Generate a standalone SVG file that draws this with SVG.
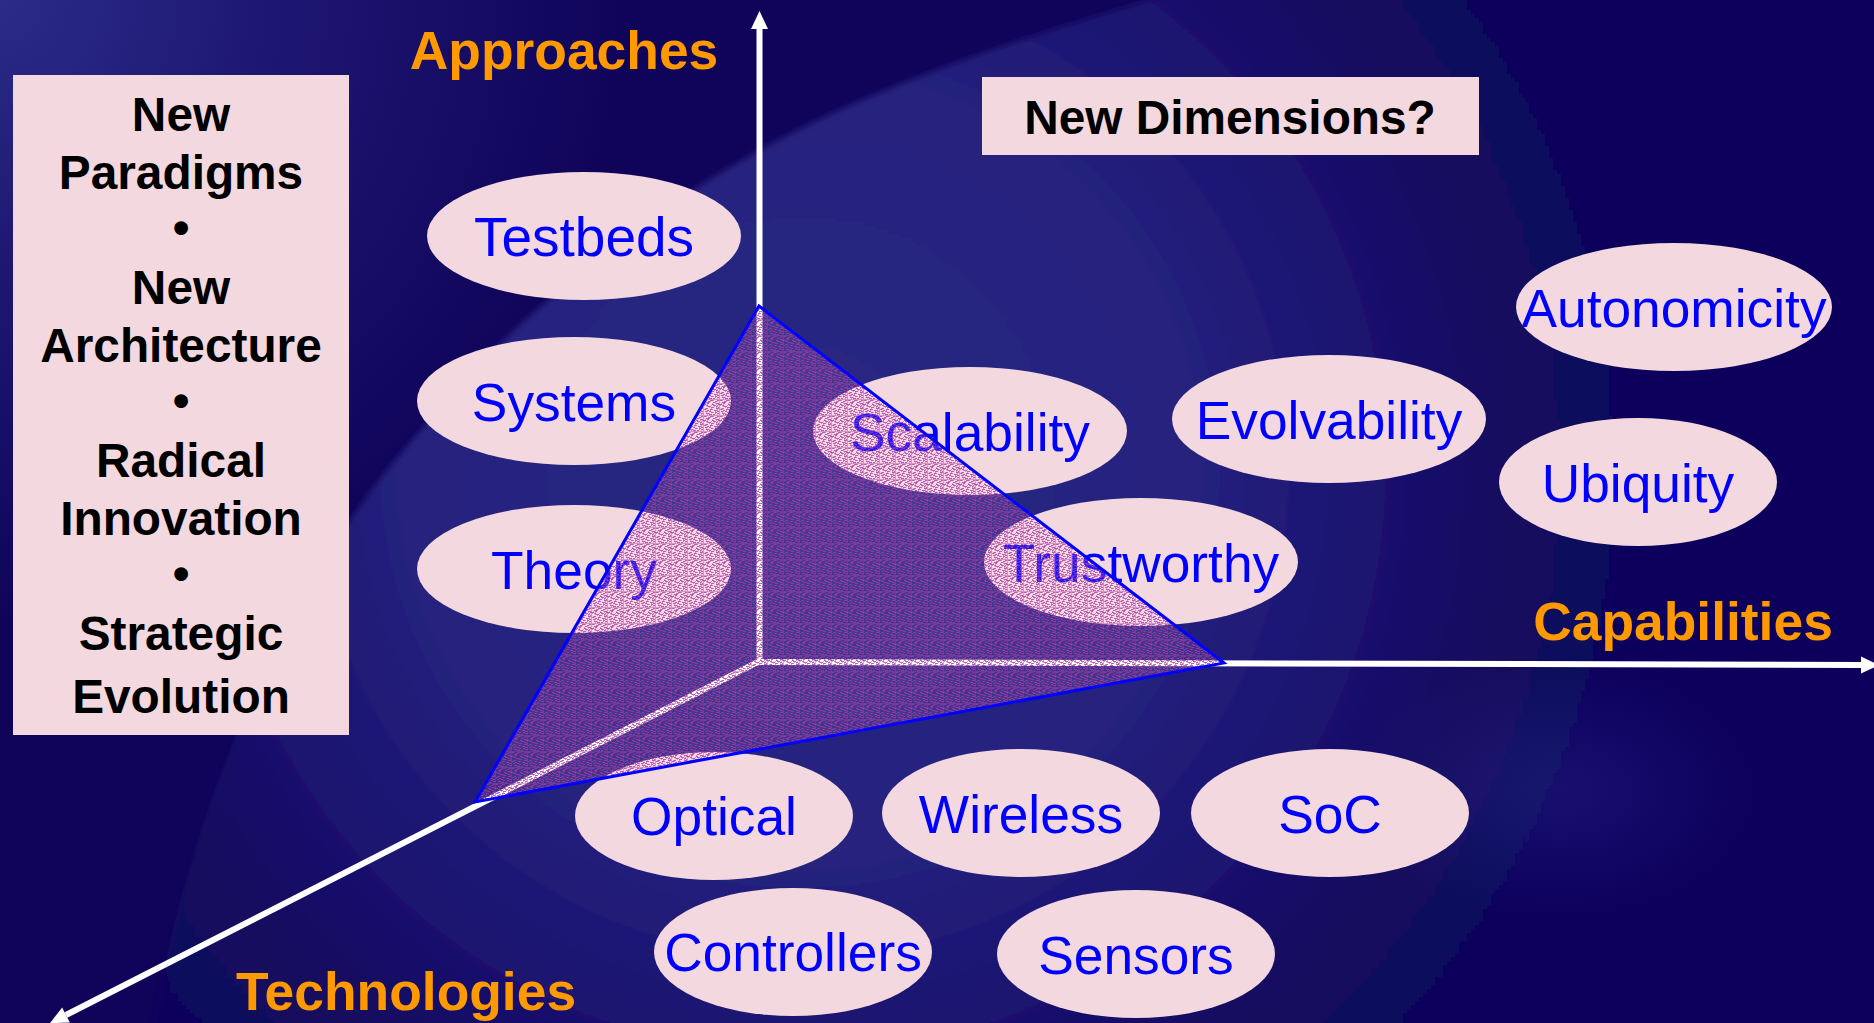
<svg xmlns="http://www.w3.org/2000/svg" width="1874" height="1023" viewBox="0 0 1874 1023">
<style>
.n{fill:#f3d8df}
.l{font:53.3px "Liberation Sans",Arial,sans-serif;fill:#0000ff;text-anchor:middle}
.b{font:bold 47.8px "Liberation Sans",Arial,sans-serif;fill:#000;text-anchor:middle}
.o{font:bold 53.4px "Liberation Sans",Arial,sans-serif;fill:#ff9900;text-anchor:middle}
.a{fill:none;stroke:#fff;stroke-width:6}
</style>
<defs>
<radialGradient id="bg" gradientUnits="userSpaceOnUse" cx="0" cy="0" r="620">
<stop offset="0" stop-color="#2a2c88"/><stop offset=".45" stop-color="#1d1672"/><stop offset="1" stop-color="#10045a"/>
</radialGradient>
<radialGradient id="disc" gradientUnits="userSpaceOnUse" cx="800" cy="470" r="1000">
<stop offset="0" stop-color="#2a2884"/><stop offset=".38" stop-color="#26237e"/><stop offset=".55" stop-color="#1c1472"/><stop offset=".72" stop-color="#12085e"/><stop offset="1" stop-color="#10045c"/>
</radialGradient>
<radialGradient id="glow"><stop offset="0" stop-color="#2a2a90" stop-opacity=".35"/><stop offset="1" stop-color="#2a2a90" stop-opacity="0"/></radialGradient>
<filter id="soft" x="-5%" y="-5%" width="110%" height="110%"><feGaussianBlur stdDeviation="3"/></filter>
<marker id="head" markerUnits="userSpaceOnUse" markerWidth="20" markerHeight="20" refX="0" refY="9" orient="auto" overflow="visible"><path d="M0 .5L18 9L0 17.5z" fill="#fff"/></marker>
<pattern id="dith" patternUnits="userSpaceOnUse" width="16" height="16">
<rect width="16" height="16" fill="#fff" fill-opacity=".1"/>
<path shape-rendering="crispEdges" fill="none" stroke="#b432aa" stroke-opacity=".8" d="M0 .5h2M6 .5h3M13 .5h2M4 1.5h2M11 1.5h2M2 2.5h3M9 2.5h2M3 3.5h2M12 3.5h3M0 4.5h2M8 4.5h2M14 4.5h2M2 5.5h2M9 5.5h3M4 6.5h3M12 6.5h2M7 7.5h3M14 7.5h1M2 8.5h2M12 8.5h3M0 9.5h2M6 9.5h3M3 10.5h2M10 10.5h3M1 11.5h2M5 11.5h2M13 11.5h2M7 12.5h2M11 12.5h2M2 13.5h3M13 13.5h2M5 14.5h3M9 14.5h2"/>
<path shape-rendering="crispEdges" fill="none" stroke="#b432aa" stroke-opacity=".45" d="M0 15.5h16M15.5 0v15"/>
<path shape-rendering="crispEdges" fill="none" stroke="#6a2a9a" stroke-opacity=".4" d="M2 .5h1M9 .5h1M6 1.5h1M13 1.5h1M5 2.5h1M11 2.5h1M1 3.5h1M8 3.5h1M3 4.5h1M12 4.5h1M0 5.5h1M7 5.5h1M13 5.5h1M3 6.5h1M10 6.5h1M5 7.5h1M12 7.5h1M1 8.5h1M7 8.5h1M2 9.5h1M13 9.5h1M6 10.5h1M13 10.5h1M3 11.5h1M11 11.5h1M2 12.5h1M9 12.5h1M5 13.5h1M11 13.5h1M3 14.5h1M13 14.5h1"/>
</pattern>
</defs>

<g id="background">
<rect width="1874" height="1023" fill="url(#bg)"/>
<path filter="url(#soft)" fill="url(#disc)" d="M150 1040C190 800 290 580 407 446C450 396 490 350 533 313C590 265 640 225 704 183C770 142 830 112 903 83C990 48 1080 20 1190 -12L1900 -12L1900 1040Z"/>
<ellipse cx="1560" cy="790" rx="200" ry="130" fill="url(#glow)"/>
</g>

<g id="connectors">
<path class="a" d="M759.5 662V29" marker-end="url(#head)"/>
<path class="a" d="M758 662L1861 665" marker-end="url(#head)"/>
<path class="a" d="M758 662L66 1015" marker-end="url(#head)"/>
</g>

<g id="label-approaches"><text class="o" x="564" y="69">Approaches</text></g>
<g id="label-capabilities"><text class="o" x="1683" y="640">Capabilities</text></g>
<g id="label-technologies"><text class="o" x="406" y="1010">Technologies</text></g>

<g id="box-paradigms">
<rect class="n" x="13" y="75" width="336" height="660"/>
<text class="b" x="181" y="131">New</text>
<text class="b" x="181" y="189">Paradigms</text>
<text class="b" x="181" y="244">•</text>
<text class="b" x="181" y="304">New</text>
<text class="b" x="181" y="362">Architecture</text>
<text class="b" x="181" y="417">•</text>
<text class="b" x="181" y="477">Radical</text>
<text class="b" x="181" y="535">Innovation</text>
<text class="b" x="181" y="590">•</text>
<text class="b" x="181" y="650">Strategic</text>
<text class="b" x="181" y="713">Evolution</text>
</g>
<g id="box-dimensions">
<rect class="n" x="982" y="77" width="497" height="78"/>
<text class="b" x="1230" y="134">New Dimensions?</text>
</g>

<g id="testbeds"><ellipse class="n" cx="584" cy="236" rx="157" ry="64"/><text class="l" x="584" y="256" style="font-size:55px">Testbeds</text></g>
<g id="systems"><ellipse class="n" cx="574" cy="401" rx="157" ry="64"/><text class="l" x="574" y="421">Systems</text></g>
<g id="theory"><ellipse class="n" cx="574" cy="569" rx="157" ry="64"/><text class="l" x="574" y="589">Theory</text></g>
<g id="scalability"><ellipse class="n" cx="970" cy="431" rx="157" ry="64"/><text class="l" x="970" y="451">Scalability</text></g>
<g id="evolvability"><ellipse class="n" cx="1329" cy="419" rx="157" ry="64"/><text class="l" x="1329" y="439">Evolvability</text></g>
<g id="autonomicity"><ellipse class="n" cx="1674" cy="307" rx="158" ry="64"/><text class="l" x="1674" y="327">Autonomicity</text></g>
<g id="ubiquity"><ellipse class="n" cx="1638" cy="482" rx="139" ry="64"/><text class="l" x="1638" y="502">Ubiquity</text></g>
<g id="trustworthy"><ellipse class="n" cx="1141" cy="562" rx="157" ry="64"/><text class="l" x="1141" y="582">Trustworthy</text></g>
<g id="optical"><ellipse class="n" cx="714" cy="816" rx="139" ry="64"/><text class="l" x="714" y="835">Optical</text></g>
<g id="wireless"><ellipse class="n" cx="1021" cy="813" rx="139" ry="64"/><text class="l" x="1021" y="833">Wireless</text></g>
<g id="soc"><ellipse class="n" cx="1330" cy="813" rx="139" ry="64"/><text class="l" x="1330" y="833">SoC</text></g>
<g id="controllers"><ellipse class="n" cx="793" cy="952" rx="139" ry="64"/><text class="l" x="793" y="971">Controllers</text></g>
<g id="sensors"><ellipse class="n" cx="1136" cy="954" rx="139" ry="64"/><text class="l" x="1136" y="974">Sensors</text></g>

<g id="triangle"><polygon points="759,306 1224,663 475,802" fill="url(#dith)" stroke="#0000ff" stroke-width="3"/></g>
</svg>
